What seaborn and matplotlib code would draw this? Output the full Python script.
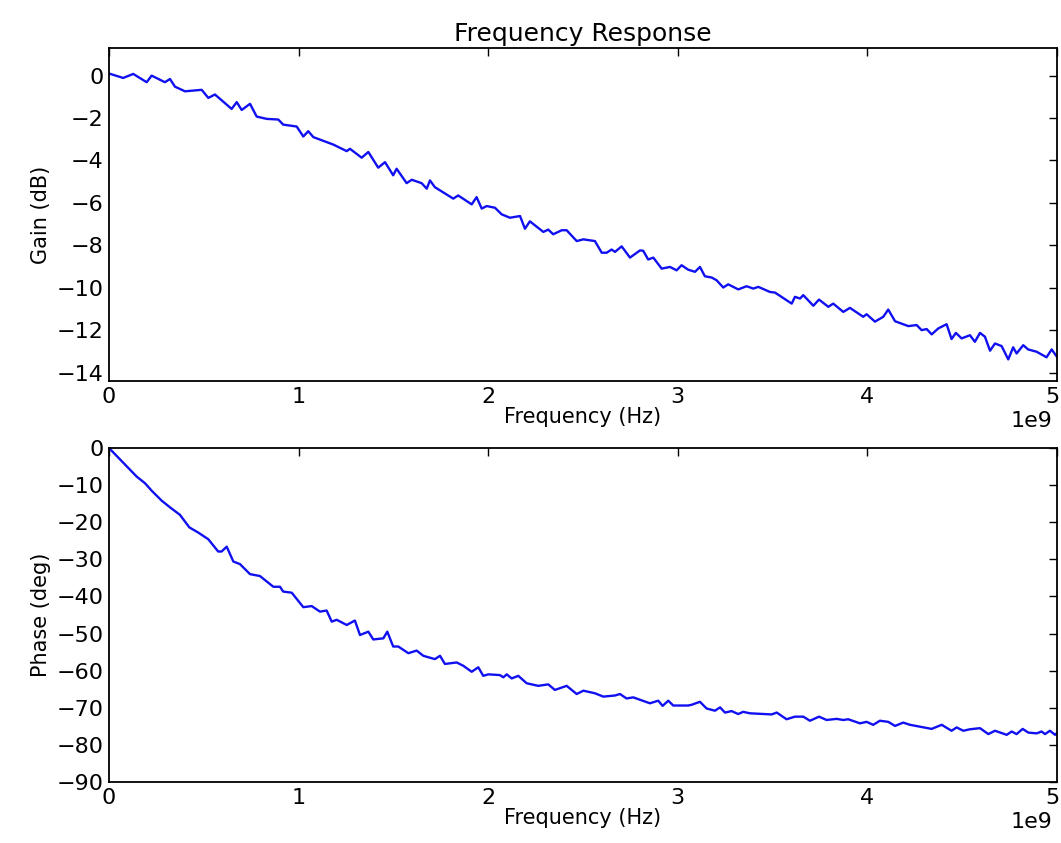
import numpy as np
import pandas as pd
import seaborn as sns
import matplotlib
matplotlib.use("Agg")
import matplotlib.pyplot as plt
import matplotlib.transforms as mtransforms

# values, frequency in GHz
gain_freq = [0.0, 0.075, 0.128, 0.199, 0.225, 0.295, 0.322, 0.348, 0.401, 0.489,
             0.524, 0.559, 0.647, 0.674, 0.700, 0.744, 0.779, 0.832, 0.893, 0.919,
             0.990, 1.025, 1.051, 1.078, 1.183, 1.254, 1.271, 1.333, 1.368, 1.420,
             1.456, 1.499, 1.517, 1.570, 1.597, 1.649, 1.676, 1.693, 1.719, 1.816,
             1.842, 1.913, 1.939, 1.966, 1.992, 2.036, 2.071, 2.115, 2.168, 2.194,
             2.220, 2.291, 2.317, 2.343, 2.388, 2.414, 2.467, 2.502, 2.563, 2.599,
             2.625, 2.651, 2.669, 2.704, 2.748, 2.801, 2.818, 2.844, 2.871, 2.915,
             2.959, 2.994, 3.020, 3.055, 3.091, 3.117, 3.143, 3.179, 3.205, 3.240,
             3.266, 3.319, 3.363, 3.398, 3.425, 3.486, 3.513, 3.601, 3.618, 3.645,
             3.662, 3.715, 3.745, 3.794, 3.820, 3.873, 3.908, 3.978, 3.996, 4.040,
             4.084, 4.110, 4.146, 4.216, 4.260, 4.286, 4.313, 4.339, 4.374, 4.418,
             4.444, 4.467, 4.497, 4.541, 4.567, 4.594, 4.620, 4.647, 4.673, 4.708,
             4.743, 4.769, 4.787, 4.822, 4.848, 4.893, 4.945, 4.972, 5.000]
gain_db = [0.10, -0.11, 0.08, -0.31, 0.00, -0.31, -0.16, -0.52, -0.74, -0.67,
           -1.05, -0.89, -1.57, -1.25, -1.62, -1.33, -1.93, -2.04, -2.07, -2.31,
           -2.40, -2.87, -2.62, -2.90, -3.25, -3.56, -3.45, -3.87, -3.60, -4.34,
           -4.08, -4.70, -4.39, -5.07, -4.91, -5.07, -5.33, -4.94, -5.26, -5.80,
           -5.65, -6.07, -5.73, -6.27, -6.15, -6.23, -6.54, -6.70, -6.62, -7.22,
           -6.87, -7.37, -7.26, -7.48, -7.29, -7.29, -7.80, -7.72, -7.80, -8.35,
           -8.35, -8.20, -8.31, -8.05, -8.58, -8.24, -8.26, -8.67, -8.58, -9.10,
           -9.02, -9.18, -8.94, -9.15, -9.25, -9.02, -9.46, -9.52, -9.65, -9.99,
           -9.84, -10.08, -9.93, -10.04, -9.96, -10.20, -10.23, -10.75, -10.43, -10.51,
           -10.35, -10.85, -10.56, -10.90, -10.75, -11.14, -10.95, -11.37, -11.25, -11.60,
           -11.37, -11.03, -11.58, -11.81, -11.76, -12.00, -11.95, -12.20, -11.92, -11.72,
           -12.42, -12.13, -12.39, -12.24, -12.55, -12.13, -12.31, -12.97, -12.63, -12.75,
           -13.38, -12.81, -13.10, -12.71, -12.91, -13.02, -13.28, -12.91, -13.26]

phase_freq = [0.0, 0.146, 0.190, 0.225, 0.278, 0.322, 0.374, 0.424, 0.471, 0.524,
              0.576, 0.594, 0.621, 0.656, 0.691, 0.744, 0.796, 0.867, 0.902, 0.919,
              0.964, 1.025, 1.069, 1.113, 1.148, 1.175, 1.201, 1.254, 1.297, 1.324,
              1.368, 1.394, 1.447, 1.468, 1.499, 1.526, 1.579, 1.623, 1.658, 1.719,
              1.746, 1.772, 1.834, 1.869, 1.913, 1.948, 1.974, 2.001, 2.062, 2.080,
              2.098, 2.124, 2.159, 2.203, 2.264, 2.317, 2.352, 2.414, 2.467, 2.502,
              2.563, 2.607, 2.669, 2.695, 2.730, 2.765, 2.853, 2.897, 2.920, 2.950,
              2.976, 3.055, 3.073, 3.117, 3.152, 3.196, 3.223, 3.249, 3.284, 3.319,
              3.345, 3.381, 3.495, 3.522, 3.574, 3.618, 3.662, 3.697, 3.745, 3.785,
              3.838, 3.873, 3.899, 3.961, 3.996, 4.031, 4.066, 4.110, 4.146, 4.189,
              4.225, 4.339, 4.392, 4.444, 4.471, 4.506, 4.541, 4.594, 4.638, 4.673,
              4.735, 4.761, 4.787, 4.819, 4.849, 4.893, 4.919, 4.937, 4.963, 4.990,
              5.000]
phase_deg = [0.0, -7.7, -9.5, -11.5, -14.2, -16.0, -18.0, -21.4, -22.8, -24.6,
             -27.9, -27.9, -26.6, -30.6, -31.3, -34.0, -34.5, -37.4, -37.4, -38.7,
             -39.0, -42.9, -42.6, -44.1, -43.8, -46.8, -46.3, -47.7, -46.5, -50.4,
             -49.5, -51.6, -51.3, -49.5, -53.5, -53.5, -55.3, -54.6, -56.0, -56.9,
             -56.0, -58.2, -57.8, -58.7, -60.3, -59.1, -61.4, -61.0, -61.2, -61.8,
             -61.0, -62.1, -61.4, -63.4, -64.1, -63.7, -65.2, -64.1, -66.3, -65.4,
             -66.1, -67.0, -66.7, -66.3, -67.5, -67.2, -68.8, -68.1, -69.5, -68.1,
             -69.4, -69.4, -69.2, -68.4, -70.2, -70.8, -69.9, -71.3, -70.9, -71.7,
             -71.1, -71.5, -71.8, -71.3, -73.1, -72.4, -72.4, -73.5, -72.4, -73.3,
             -73.0, -73.3, -73.1, -74.2, -73.8, -74.6, -73.5, -73.8, -74.9, -74.0,
             -74.6, -75.7, -74.6, -76.2, -75.3, -76.2, -75.8, -75.5, -77.1, -76.2,
             -77.3, -76.4, -77.1, -75.7, -76.7, -76.9, -76.4, -77.1, -76.2, -77.3,
             -76.8]

df_gain = pd.DataFrame({'freq': np.array(gain_freq) * 1e9, 'gain': gain_db})
df_phase = pd.DataFrame({'freq': np.array(phase_freq) * 1e9, 'phase': phase_deg})

sns.set_style('white')
plt.rcParams['font.family'] = ['DejaVu Sans']
plt.rcParams['text.color'] = 'black'
plt.rcParams['axes.labelcolor'] = 'black'
plt.rcParams['xtick.color'] = 'black'
plt.rcParams['ytick.color'] = 'black'
plt.rcParams['axes.edgecolor'] = 'black'
plt.rcParams['axes.linewidth'] = 1.3

fig = plt.figure(figsize=(10.61, 8.43), dpi=100)
ax1 = fig.add_axes([0.1027, 0.548, 0.8935, 0.395])
ax2 = fig.add_axes([0.1027, 0.0724, 0.8935, 0.3962])

sns.lineplot(data=df_gain, x='freq', y='gain', ax=ax1, color='#1010f0', lw=1.7, estimator=None, sort=False)
sns.lineplot(data=df_phase, x='freq', y='phase', ax=ax2, color='#1010f0', lw=1.7, estimator=None, sort=False)

ax1.set_title('Frequency Response', fontsize=18, pad=5)
ax1.set_ylabel('Gain (dB)', fontsize=15)
ax2.set_ylabel('Phase (deg)', fontsize=15)
ax1.set_ylim(-14.4, 1.3)
ax2.set_ylim(-90, 0)
ax1.set_yticks(range(-14, 1, 2))
ax2.set_yticks(range(-90, 1, 10))

# nudge the last x tick label so it stays inside the canvas
nudge = mtransforms.ScaledTranslation(-5 / 100, 0, fig.dpi_scale_trans)

for ax in (ax1, ax2):
    ax.set_xlim(0, 5e9)
    ax.set_xticks(np.arange(0, 5.1e9, 1e9))
    ax.set_xlabel('Frequency (Hz)', fontsize=15, labelpad=0)
    ax.tick_params(axis='both', which='major', labelsize=16, length=6, width=1,
                   top=True, right=True, direction='in', pad=4, colors='black')
    off = ax.xaxis.get_offset_text()
    off.set_fontsize(16)
    off.set_x(0.995)
    last = ax.get_xticklabels()[-1]
    last.set_transform(last.get_transform() + nudge)
    for s in ax.spines.values():
        s.set_color('black')
        s.set_visible(True)

fig.savefig('out.png', dpi=100)
